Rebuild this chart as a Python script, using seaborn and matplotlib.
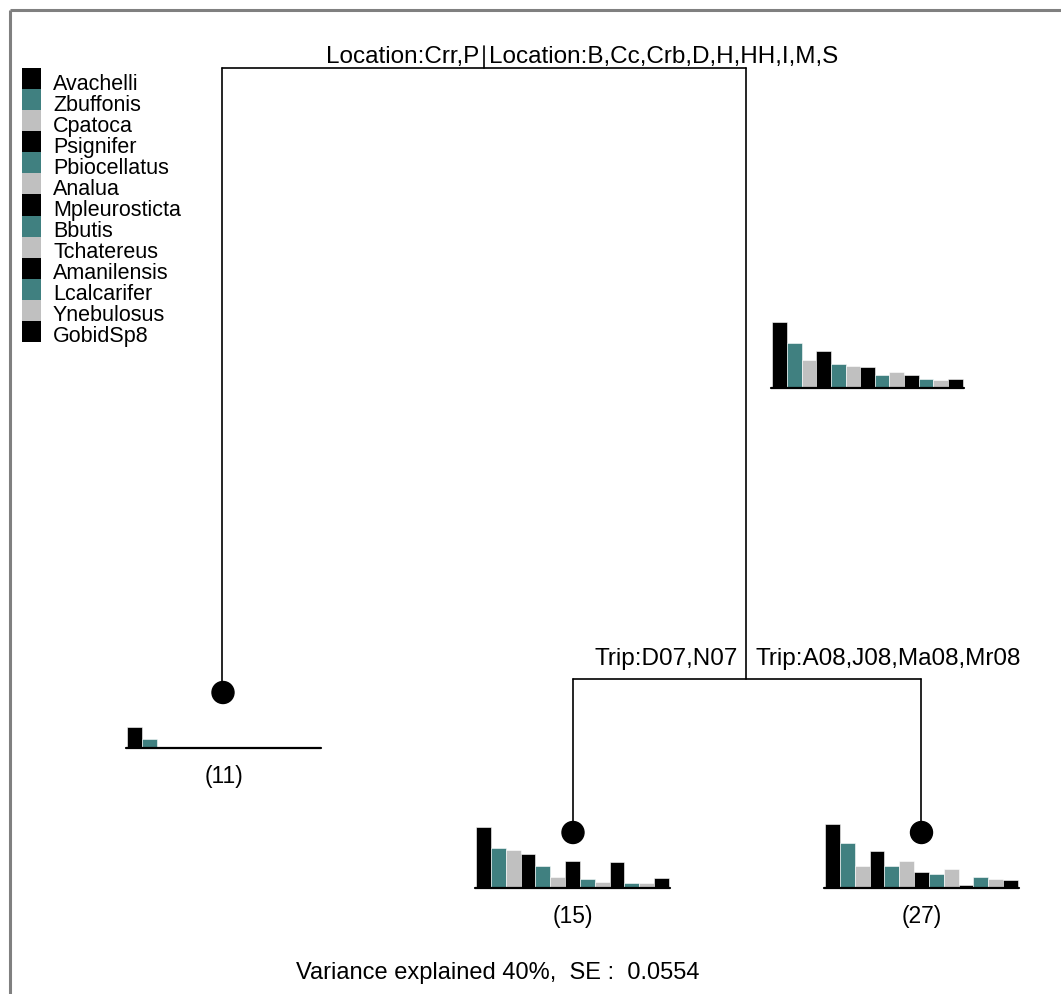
import numpy as np
import pandas as pd
import matplotlib
matplotlib.use("Agg")
import matplotlib.pyplot as plt
from matplotlib.patches import Circle, Rectangle
import seaborn as sns

# %%
# species and node mean abundances
species = ['Avachelli', 'Zbuffonis', 'Cpatoca', 'Psignifer', 'Pbiocellatus',
           'Analua', 'Mpleurosticta', 'Bbutis', 'Tchatereus', 'Amanilensis',
           'Lcalcarifer', 'Ynebulosus', 'GobidSp8']
root_means = [65.7, 45.0, 28.3, 36.7, 24.0, 22.3, 20.7, 12.7, 16.0, 12.7, 9.3, 7.7, 9.3]
node11_means = [21.0, 8.7, 0.0, 1.5, 0.0, 0.0, 0.0, 0.0, 0.0, 0.0, 0.0, 0.0, 0.0]
node15_means = [61.0, 40.0, 38.3, 34.0, 22.3, 11.0, 27.3, 9.3, 6.3, 25.7, 4.7, 4.7, 9.7]
node27_means = [64.3, 45.0, 22.3, 36.7, 22.3, 27.3, 16.0, 14.3, 19.0, 3.0, 11.0, 9.3, 7.7]
node_sizes = [11, 15, 27]

split1_left = 'Location:Crr,P'
split1_right = 'Location:B,Cc,Crb,D,H,HH,I,M,S'
split2_left = 'Trip:D07,N07'
split2_right = 'Trip:A08,J08,Ma08,Mr08'
footer = 'Variance explained 40%,  SE :  0.0554'

# %%
sns.set_style('white')
plt.rcParams['font.family'] = ['Liberation Sans', 'DejaVu Sans']
plt.rcParams['text.color'] = 'black'

W, H = 1061, 994
cols = ['#000000', '#408080', '#c0c0c0']
palette = {s: cols[i % 3] for i, s in enumerate(species)}

fig = plt.figure(figsize=(W / 100, H / 100), dpi=100)
ax = fig.add_axes([0, 0, 1, 1])
ax.set_xlim(0, W)
ax.set_ylim(H, 0)
ax.axis('off')

# grey frame (top and left only visible)
ax.plot([9.5, W], [9.5, 9.5], color='#808080', lw=2.2, solid_capstyle='butt')
ax.plot([9.5, 9.5], [9.5, H], color='#808080', lw=2.2, solid_capstyle='butt')

lk = dict(color='black', lw=1.2)
# root split
ax.plot([222, 746], [68, 68], **lk)
ax.plot([484, 484], [46, 68], **lk)
ax.text(479, 63, split1_left, ha='right', va='baseline', fontsize=17.5)
ax.text(489, 63, split1_right, ha='left', va='baseline', fontsize=17.5)
# left branch -> leaf 11
ax.plot([222, 222], [68, 692], **lk)
# right branch -> second split
ax.plot([746, 746], [68, 679], **lk)
ax.plot([573, 921], [679, 679], **lk)
ax.text(738, 665, split2_left, ha='right', va='baseline', fontsize=17.5)
ax.text(756, 665, split2_right, ha='left', va='baseline', fontsize=17.5)
ax.plot([573, 573], [679, 832], **lk)
ax.plot([921, 921], [679, 832], **lk)

for cx, cy in [(223, 692.5), (573, 832.5), (921.5, 832.5)]:
    ax.add_patch(Circle((cx, cy), 11, color='black', zorder=5))

# legend
for i, s in enumerate(species):
    top = 68.3 + i * 21.03
    ax.add_patch(Rectangle((22, top), 19, 21.03, facecolor=palette[s], edgecolor='none'))
    ax.text(53, top + 21.6, s, ha='left', va='baseline', fontsize=15.5)


# %%
def node_bars(vals, x0, x1, ybase, label=None):
    hmax = 70
    iax = fig.add_axes([x0 / W, 1 - ybase / H, (x1 - x0) / W, hmax / H])
    df = pd.DataFrame({'species': species, 'mean': vals})
    sns.barplot(data=df, x='species', y='mean', hue='species', palette=palette,
                legend=False, width=1.0, saturation=1, edgecolor='white',
                linewidth=0.4, ax=iax)
    iax.set_xlim(-0.58, len(species) - 0.42)
    iax.set_ylim(0, hmax)
    iax.axhline(0, color='black', lw=1.6, clip_on=False)
    iax.axis('off')
    if label is not None:
        ax.text((x0 + x1) / 2, ybase + 29, label, ha='center', va='center', fontsize=16.5)


node_bars(root_means, 771, 964, 388)
node_bars(node11_means, 126, 321, 748, f'({node_sizes[0]})')
node_bars(node15_means, 475, 670, 888, f'({node_sizes[1]})')
node_bars(node27_means, 824, 1019, 888, f'({node_sizes[2]})')

ax.text(498, 973, footer, ha='center', va='center', fontsize=17)

fig.savefig('out.png', dpi=100)
